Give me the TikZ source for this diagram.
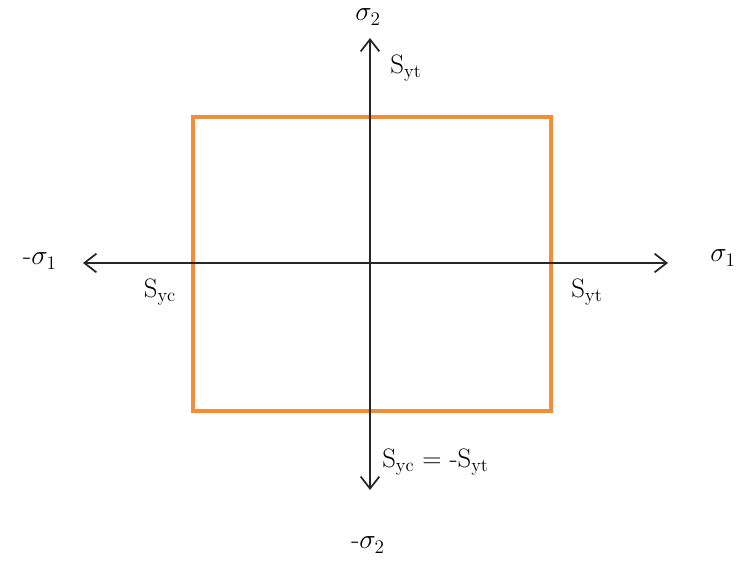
\documentclass[tikz,border=0pt]{standalone}
\usepackage{amsmath}
\usepackage{xcolor}
\usepackage{tikz}
\usetikzlibrary{arrows.meta,positioning}

\definecolor{yieldorange}{RGB}{242,142,56}

\begin{document}
\begin{tikzpicture}[
    x=0.75pt, y=-0.75pt,
    axis/.style={line width=1.5pt, black!85, -{Straight Barb[length=9pt, width=14pt, line width=1.3pt]}},
    envelope/.style={line width=3.2pt, yieldorange},
    lbl/.style={inner sep=0pt, font=\fontsize{20}{22}\selectfont}
]
    \useasboundingbox (0,0) rectangle (738,560);
    % axis ends
    \coordinate (origin) at (370,263);
    \coordinate (xpos) at (668,263);
    \coordinate (xneg) at (83,263);
    \coordinate (ypos) at (370,38);
    \coordinate (yneg) at (370,490);
    % failure envelope
    \coordinate (env sw) at (193,411);
    \coordinate (env ne) at (551,117);
    \draw[envelope] (env sw) rectangle (env ne);
    % axes
    \draw[axis] (origin) -- (xpos);
    \draw[axis] (origin) -- (xneg);
    \draw[axis] (origin) -- (ypos);
    \draw[axis] (origin) -- (yneg);
    % labels
    \node[lbl] (sig2) at (368,17) {$\sigma_2$};
    \node[lbl] (sig2neg) at (368,545) {-$\sigma_2$};
    \node[lbl] (sig1) at (723,258) {$\sigma_1$};
    \node[lbl] (sig1neg) at (40,261) {-$\sigma_1$};
    \node[lbl] (syt top) at (406,68) {S$_{\text{yt}}$};
    \node[lbl] (syt right) at (587,292) {S$_{\text{yt}}$};
    \node[lbl] (syc left) at (160,292) {S$_{\text{yc}}$};
    \node[lbl, anchor=west] (syc eq) at (382,462) {S$_{\text{yc}}$ = -S$_{\text{yt}}$};
\end{tikzpicture}
\end{document}
